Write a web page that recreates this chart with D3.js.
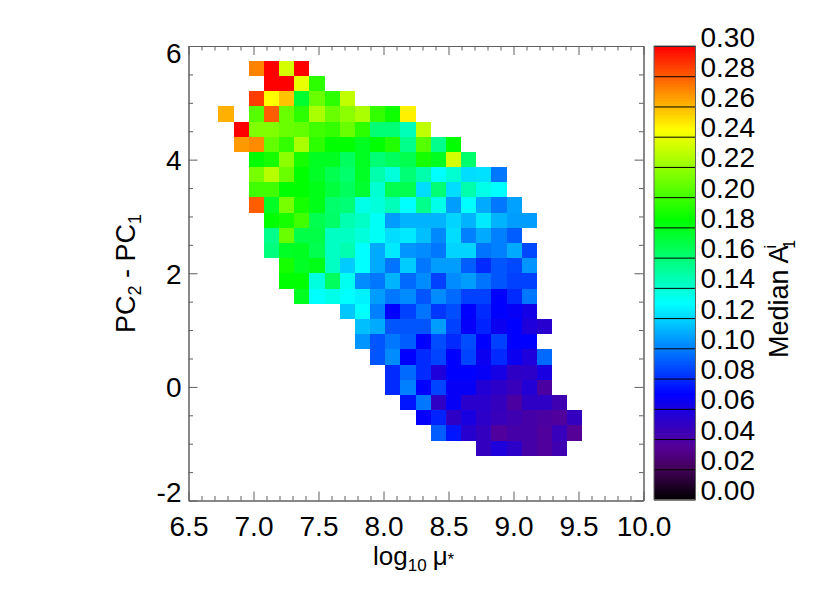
<!DOCTYPE html>
<html><head><meta charset="utf-8">
<script src="https://cdn.jsdelivr.net/npm/d3@7"></script>
<style>
html,body{margin:0;padding:0;background:#fff}
text{font-family:"Liberation Sans",Arial,sans-serif;fill:#000}
</style></head><body>
<svg id="c" width="830" height="593"></svg>
<script>
const xTicks = ["6.5","7.0","7.5","8.0","8.5","9.0","9.5","10.0"];
const yTicks = [-2,0,2,4,6];
const barTicks = ["0.00","0.02","0.04","0.06","0.08","0.10","0.12","0.14","0.16","0.18","0.20","0.22","0.24","0.26","0.28","0.30"];
const colorStops = [0,0.02,0.035,0.07,0.13,0.185,0.245,0.30];
const colorValues = ["#000000","#410055","#550096","#0000ff","#00ffff","#00ff00","#ffff00","#ff0000"];
const binX0 = 6.73, binXStep = 0.11667, binYTop = 5.741, binYStep = 0.2675;
const rowStart = [2,3,2,0,1,1,2,2,2,2,3,3,3,4,4,5,8,9,9,10,11,11,12,13,14,17];
const medianA = [
[.272,.30,.235,.30],
[.30,.30,.24,.195],
[.287,.245,.258,.175,.21,.195,.23],
[.262,null,.205,.28,.21,.195,.225,.21,.218,.225,.197,.188,.248],
[.30,.215,.215,.21,.208,.2,.197,.21,.195,.16,.16,.145,.23],
[.267,.27,.208,.197,.225,.195,.185,.185,.178,.185,.193,.155,.205,.155,.185],
[.185,.19,.218,.19,.178,.178,.165,.178,.16,.165,.168,.19,.178,.235,.162],
[.213,.228,.21,.185,.177,.168,.162,.177,.148,.138,.16,.148,.13,.14,.122,.123,.098],
[.2,.2,.185,.185,.18,.172,.165,.175,.14,.168,.168,.122,.16,.122,.148,.135,.13],
[.28,.177,.213,.19,.18,.162,.16,.135,.138,.145,.13,.155,.135,.107,.13,.11,.098,.108],
[.185,.19,.2,.168,.163,.147,.142,.132,.107,.112,.112,.112,.12,.112,.125,.112,.107,.107],
[.155,.21,.17,.17,.143,.143,.138,.132,.122,.125,.115,.102,.122,.1,.11,.1,.092],
[.158,.177,.178,.168,.143,.147,.13,.11,.125,.105,.103,.098,.12,.12,.097,.1,.11,.087],
[.19,.177,.18,.143,.118,.13,.11,.097,.118,.098,.107,.107,.092,.08,.09,.087,.105],
[.185,.185,.137,.165,.133,.103,.098,.112,.095,.103,.085,.103,.107,.097,.09,.085,.085],
[.178,.13,.135,.13,.127,.107,.098,.103,.09,.103,.095,.085,.085,.07,.08,.098],
[.117,.13,.1,.07,.085,.097,.083,.088,.07,.08,.07,.067,.062],
[.115,.11,.09,.09,.09,.107,.085,.068,.078,.065,.07,.058,.054],
[.105,.09,.098,.092,.07,.088,.08,.088,.07,.085,.07,.07],
[.09,.103,.07,.08,.086,.07,.086,.065,.08,.065,.058,.095],
[.08,.095,.08,.058,.07,.07,.067,.061,.051,.052,.06],
[.08,.1,.07,.086,.067,.067,.056,.052,.047,.056,.039],
[.075,.098,.051,.067,.053,.053,.048,.039,.051,.051,.044],
[.068,.078,.051,.06,.052,.047,.044,.041,.039,.037,.049],
[.092,.075,.054,.049,.037,.041,.041,.037,.047,.035],
[.049,.058,.052,.041,.037,.044]
];

const svg = d3.select("#c");
const x = d3.scaleLinear().domain([6.5,10]).range([188.5,643.5]);
const y = d3.scaleLinear().domain([-2,6]).range([500.5,46]);
const color = d3.scaleLinear().domain(colorStops).range(colorValues).clamp(true);
const bar = d3.scaleLinear().domain([0,0.30]).range([499.5,46]);
const frame = "#606060";

// cells
const cells = [];
medianA.forEach((row,r)=>row.forEach((v,i)=>{ if(v!==null) cells.push({r,c:rowStart[r]+i,v}); }));
svg.append("g").attr("shape-rendering","crispEdges").selectAll("rect").data(cells).join("rect")
  .attr("x",d=>x(binX0+d.c*binXStep))
  .attr("y",d=>y(binYTop-d.r*binYStep))
  .attr("width",d=>x(binX0+(d.c+1)*binXStep)-x(binX0+d.c*binXStep))
  .attr("height",d=>y(binYTop-(d.r+1)*binYStep)-y(binYTop-d.r*binYStep))
  .attr("fill",d=>color(d.v));

function styleAxis(g,hideText){
  g.select(".domain").attr("stroke",frame).attr("stroke-width",1);
  g.selectAll(".tick line").attr("stroke",frame).attr("stroke-width",1);
  if(hideText) g.selectAll(".tick text").remove();
}
const xMajor = xTicks.map(Number);
const xMinor = d3.range(65,101).map(d=>d/10).filter(d=>!xMajor.includes(d));
const yMinor = d3.range(-2,6.01,0.5).filter(d=>!yTicks.includes(d));
const H = y.range()[0], T = y.range()[1], L = x.range()[0], R = x.range()[1];

// bottom axis
const gb = svg.append("g").attr("transform",`translate(0,${H})`);
gb.call(d3.axisBottom(x).tickValues(xMajor).tickSize(-9).tickSizeOuter(0).tickFormat((d,i)=>xTicks[i]));
styleAxis(gb);
gb.selectAll(".tick text").attr("font-size",28).attr("y",0).attr("dy",35);
const gb2 = svg.append("g").attr("transform",`translate(0,${H})`);
gb2.call(d3.axisBottom(x).tickValues(xMinor).tickSize(-4.5).tickSizeOuter(0)); styleAxis(gb2,true);
// top axis
const gt = svg.append("g").attr("transform",`translate(0,${T})`);
gt.call(d3.axisTop(x).tickValues(xMajor).tickSize(-9).tickSizeOuter(0)); styleAxis(gt,true);
const gt2 = svg.append("g").attr("transform",`translate(0,${T})`);
gt2.call(d3.axisTop(x).tickValues(xMinor).tickSize(-4.5).tickSizeOuter(0)); styleAxis(gt2,true);
// left axis
const gl = svg.append("g").attr("transform",`translate(${L},0)`);
gl.call(d3.axisLeft(y).tickValues(yTicks).tickSize(-9).tickSizeOuter(0).tickFormat(d=>d));
styleAxis(gl);
gl.selectAll(".tick text").attr("font-size",28).attr("x",-7)
  .attr("dy",d=>d===6?"0.6em":d===-2?"0.03em":"0.35em");
const gl2 = svg.append("g").attr("transform",`translate(${L},0)`);
gl2.call(d3.axisLeft(y).tickValues(yMinor).tickSize(-4.5).tickSizeOuter(0)); styleAxis(gl2,true);
// right axis
const gr = svg.append("g").attr("transform",`translate(${R},0)`);
gr.call(d3.axisRight(y).tickValues(yTicks).tickSize(-9).tickSizeOuter(0)); styleAxis(gr,true);
const gr2 = svg.append("g").attr("transform",`translate(${R},0)`);
gr2.call(d3.axisRight(y).tickValues(yMinor).tickSize(-4.5).tickSizeOuter(0)); styleAxis(gr2,true);

// colour bar
const barL = 654, barR = 695.5;
const steps = d3.range(0,0.30,0.30/300);
svg.append("g").attr("shape-rendering","crispEdges").selectAll("rect").data(steps).join("rect")
  .attr("x",barL).attr("width",barR-barL)
  .attr("y",d=>bar(d+0.001)).attr("height",d=>bar(d)-bar(d+0.001)+0.5)
  .attr("fill",d=>color(d+0.0005));
const gc = svg.append("g").attr("transform",`translate(${barR},0)`);
gc.call(d3.axisLeft(bar).tickValues(barTicks.map(Number)).tickSize(barR-barL).tickSizeOuter(0).tickFormat((d,i)=>barTicks[i]));
gc.select(".domain").remove();
gc.selectAll(".tick line").attr("stroke","#000").attr("stroke-width",1);
gc.selectAll(".tick text").attr("font-size",28).attr("text-anchor","start").attr("x",5).attr("dy","0.0em");
svg.append("rect").attr("x",barL).attr("y",46).attr("width",barR-barL).attr("height",453.5)
  .attr("fill","none").attr("stroke",frame).attr("stroke-width",1);

// titles
const tx = svg.append("text").attr("x",373).attr("y",565).attr("font-size",26);
tx.append("tspan").text("log");
tx.append("tspan").attr("font-size",17).attr("dy",6).text("10");
tx.append("tspan").attr("dy",-6).attr("dx",6).text("\u03bc");
tx.append("tspan").attr("font-size",17).text("*");

const ty = svg.append("text").attr("transform","translate(135,273.5) rotate(-90)").attr("text-anchor","middle").attr("font-size",27);
ty.append("tspan").text("PC");
ty.append("tspan").attr("font-size",18).attr("dy",6).text("2");
ty.append("tspan").attr("dy",-6).text(" - PC");
ty.append("tspan").attr("font-size",18).attr("dy",6).text("1");

const tc = svg.append("text").attr("transform","translate(788,358) rotate(-90)").attr("font-size",27);
tc.append("tspan").text("Median A");
tc.append("tspan").attr("font-size",16).attr("dy",-12).attr("dx",-3).text("i");
tc.append("tspan").attr("font-size",16).attr("dy",19).attr("dx",-4).text("1");
</script></body></html>
